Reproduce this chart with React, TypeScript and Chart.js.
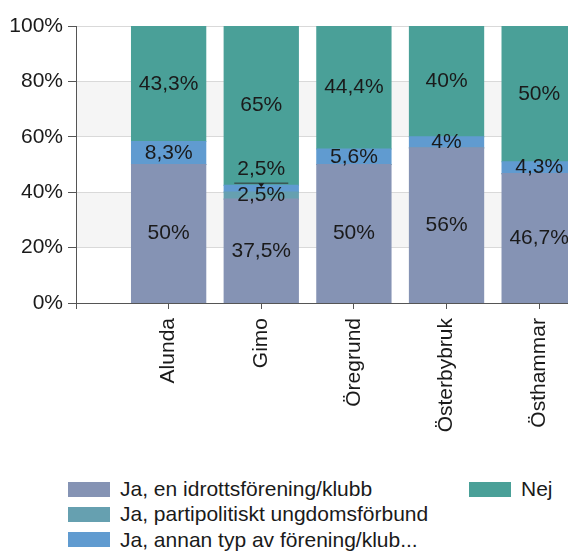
import React, { useEffect, useRef } from 'react';
import { Chart, registerables } from 'chart.js';

Chart.register(...registerables);

const categories = ['Alunda', 'Gimo', 'Öregrund', 'Österbybruk', 'Östhammar'];
const idrottValues = [50, 37.5, 50, 56, 46.7];
const partiValues = [0, 2.5, 0, 0, 0];
const annanValues = [8.3, 2.5, 5.6, 4, 4.3];
const nejValues = [43.3, 65, 44.4, 40, 50];
const seriesNames = [
  'Ja, en idrottsförening/klubb',
  'Ja, partipolitiskt ungdomsförbund',
  'Ja, annan typ av förening/klub...',
  'Nej',
];
const seriesColors = ['#8593b4', '#66a0b0', '#609bd0', '#4aa098'];
const yTickValues = [0, 20, 40, 60, 80, 100];

const FONT = '"Liberation Sans", Arial, sans-serif';
const TEXT = '#1a1a1a';
const FS = 21;

const fmt = (v: number) => String(v).replace('.', ',') + '%';

const bandsPlugin = {
  id: 'bands',
  beforeDraw(chart: any) {
    const { ctx, chartArea } = chart;
    const y = chart.scales.y;
    if (!y) return;
    ctx.save();
    ctx.fillStyle = '#f5f5f5';
    [[20, 40], [60, 80]].forEach(([a, b]) => {
      const y1 = y.getPixelForValue(b);
      const y2 = y.getPixelForValue(a);
      ctx.fillRect(chartArea.left, y1, chartArea.right - chartArea.left, y2 - y1);
    });
    ctx.restore();
  },
};

const labelPlugin = {
  id: 'segLabels',
  afterDatasetsDraw(chart: any) {
    const { ctx, chartArea } = chart;
    ctx.save();
    ctx.font = FS + 'px ' + FONT;
    ctx.fillStyle = TEXT;
    ctx.strokeStyle = '#333';
    ctx.textAlign = 'center';
    ctx.textBaseline = 'middle';
    const n = chart.data.labels.length;
    for (let i = 0; i < n; i++) {
      let lastY = Infinity;
      chart.data.datasets.forEach((ds: any, di: number) => {
        const v = ds.data[i];
        if (!v) return;
        const el = chart.getDatasetMeta(di).data[i];
        if (!el) return;
        const top = Math.max(el.y, chartArea.top);
        const bot = Math.min(el.base, chartArea.bottom);
        let y = (top + bot) / 2;
        const x = el.x;
        if (lastY - y < 20) {
          y = lastY - 26;
          const ly = y + 13.5;
          ctx.beginPath();
          ctx.lineWidth = 1;
          ctx.moveTo(x - 27, ly);
          ctx.lineTo(x + 27, ly);
          ctx.stroke();
          ctx.beginPath();
          ctx.moveTo(x - 3, ly);
          ctx.lineTo(x + 3, ly);
          ctx.lineTo(x, ly + 4);
          ctx.closePath();
          ctx.fill();
        }
        ctx.fillText(fmt(v), x, y);
        lastY = y;
      });
    }
    ctx.restore();
  },
};

export default function App() {
  const ref = useRef<HTMLCanvasElement>(null);

  useEffect(() => {
    if (!ref.current) return;
    const pad = (arr: number[]) => [null, ...arr, null];
    const labels = ['', ...categories, ''];
    const seriesValues = [idrottValues, partiValues, annanValues, nejValues];
    const chart = new Chart(ref.current, {
      type: 'bar',
      data: {
        labels,
        datasets: seriesValues.map((vals, k) => ({
          label: seriesNames[k],
          data: pad(vals) as any,
          backgroundColor: seriesColors[k],
          borderWidth: 0,
          inflateAmount: 0.6,
          barPercentage: 1,
          categoryPercentage: 0.8,
        })),
      },
      options: {
        animation: false,
        responsive: false,
        devicePixelRatio: 1,
        layout: { padding: { top: 26, left: 0, right: 6, bottom: 0 } },
        plugins: {
          legend: { display: false },
          tooltip: { enabled: false },
        },
        scales: {
          x: {
            stacked: true,
            offset: false,
            afterFit: (s: any) => {
              s.height = 470 - 303;
            },
            grid: {
              offset: false,
              drawOnChartArea: false,
              tickLength: 6,
              tickColor: '#555',
            },
            border: { color: '#555' },
            ticks: {
              autoSkip: false,
              maxRotation: 90,
              minRotation: 90,
              padding: 9,
              color: TEXT,
              font: { family: FONT, size: FS },
            },
          },
          y: {
            stacked: true,
            min: 0,
            max: 100,
            afterFit: (s: any) => {
              s.width = 76;
            },
            afterBuildTicks: (s: any) => {
              s.ticks = yTickValues.map((v) => ({ value: v }));
            },
            grid: {
              color: '#d9d9d9',
              tickLength: 8,
              tickColor: '#555',
            },
            border: { color: '#555' },
            ticks: {
              padding: 5,
              color: TEXT,
              font: { family: FONT, size: FS },
              callback: (v: any) => v + '%',
            },
          },
        },
      },
      plugins: [bandsPlugin, labelPlugin],
    });
    return () => chart.destroy();
  }, []);

  const rows = [
    { k: 0, left: 68, top: 489 },
    { k: 1, left: 68, top: 514 },
    { k: 2, left: 68, top: 539.5 },
    { k: 3, left: 469, top: 489 },
  ];

  return (
    <div
      style={{
        position: 'fixed',
        left: 0,
        top: 0,
        width: 568,
        height: 560,
        overflow: 'hidden',
        background: '#fff',
      }}
    >
      <canvas
        ref={ref}
        width={666}
        height={470}
        style={{ position: 'absolute', left: 0, top: 0, width: 666, height: 470 }}
      />
      {rows.map((r) => (
        <div
          key={r.k}
          style={{
            position: 'absolute',
            left: r.left,
            top: r.top - 12,
            height: 24,
            display: 'flex',
            alignItems: 'center',
            whiteSpace: 'nowrap',
            font: FS + 'px ' + FONT,
            color: TEXT,
          }}
        >
          <span
            style={{
              display: 'inline-block',
              width: 42,
              height: 15,
              background: seriesColors[r.k],
              marginRight: 10,
            }}
          />
          <span>{seriesNames[r.k]}</span>
        </div>
      ))}
    </div>
  );
}
